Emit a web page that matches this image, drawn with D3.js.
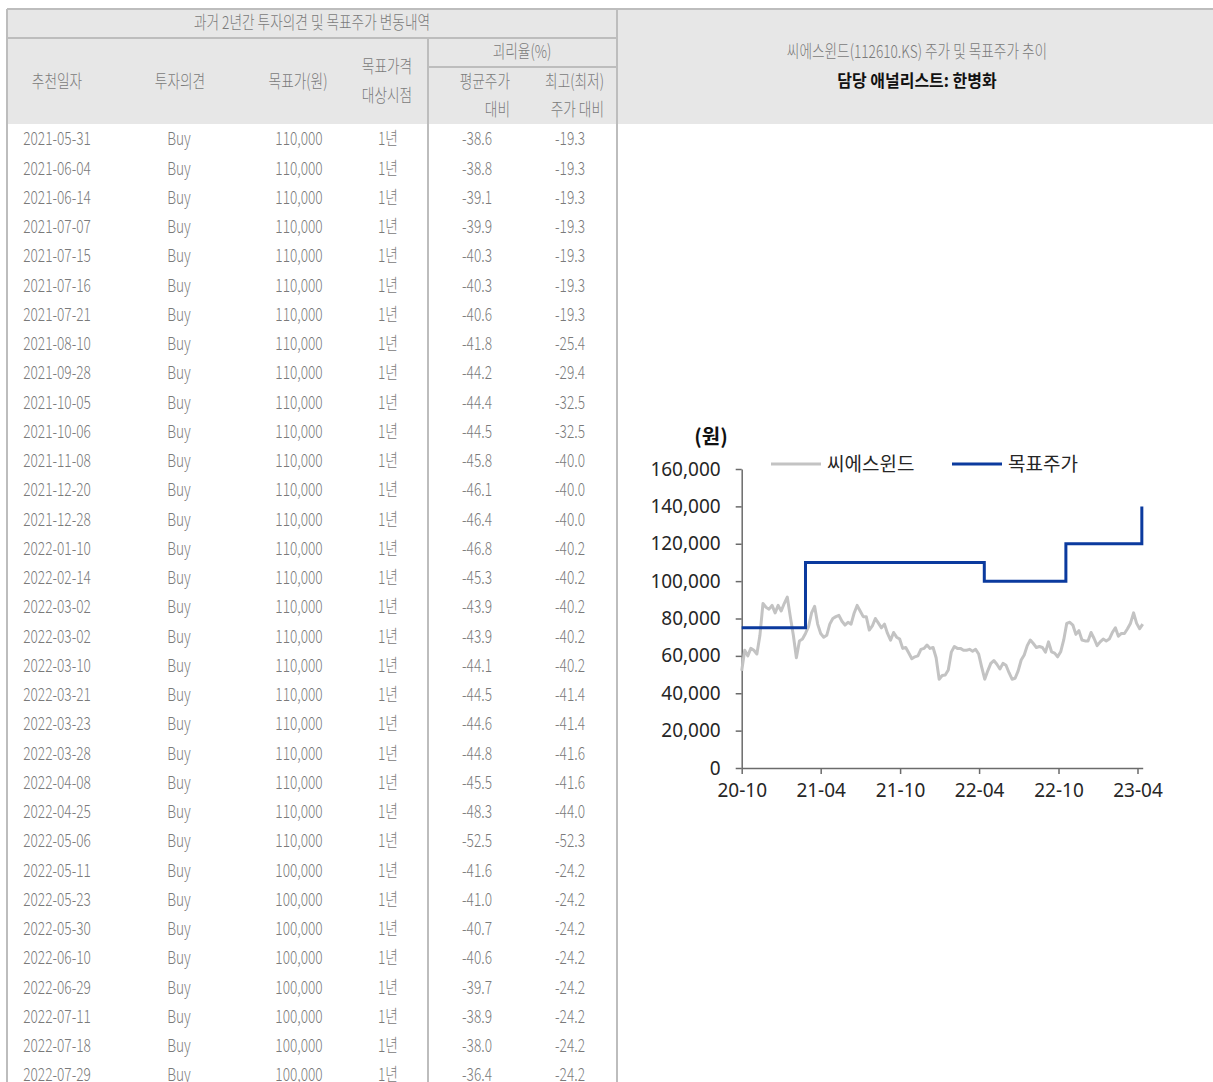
<!DOCTYPE html>
<html>
<head>
<meta charset="utf-8">
<script src="https://cdn.jsdelivr.net/npm/d3@7"></script>
<style>
  body { margin: 0; background: #fff; }
  svg { display: block; }
</style>
</head>
<body>
<div id="chart"></div>
<script>
// table data (left panel)
var recDates = ["2021-05-31","2021-06-04","2021-06-14","2021-07-07","2021-07-15","2021-07-16","2021-07-21","2021-08-10",
  "2021-09-28","2021-10-05","2021-10-06","2021-11-08","2021-12-20","2021-12-28","2022-01-10","2022-02-14","2022-03-02",
  "2022-03-02","2022-03-10","2022-03-21","2022-03-23","2022-03-28","2022-04-08","2022-04-25","2022-05-06","2022-05-11",
  "2022-05-23","2022-05-30","2022-06-10","2022-06-29","2022-07-11","2022-07-18","2022-07-29"];
var opinions = recDates.map(function() { return "Buy"; });
var targetPrices = [110000,110000,110000,110000,110000,110000,110000,110000,110000,110000,110000,110000,110000,110000,
  110000,110000,110000,110000,110000,110000,110000,110000,110000,110000,110000,100000,100000,100000,100000,100000,
  100000,100000,100000];
var horizon = "1년";
var gapAvg = [-38.6,-38.8,-39.1,-39.9,-40.3,-40.3,-40.6,-41.8,-44.2,-44.4,-44.5,-45.8,-46.1,-46.4,-46.8,-45.3,-43.9,
  -43.9,-44.1,-44.5,-44.6,-44.8,-45.5,-48.3,-52.5,-41.6,-41.0,-40.7,-40.6,-39.7,-38.9,-38.0,-36.4];
var gapMax = [-19.3,-19.3,-19.3,-19.3,-19.3,-19.3,-19.3,-25.4,-29.4,-32.5,-32.5,-40.0,-40.0,-40.0,-40.2,-40.2,-40.2,
  -40.2,-40.2,-41.4,-41.4,-41.6,-41.6,-44.0,-52.3,-24.2,-24.2,-24.2,-24.2,-24.2,-24.2,-24.2,-24.2];

// chart data (right panel): weekly closes, from the first week
var priceStart = "2020-10-05";
var priceWeekly = [52000,63000,60000,64000,63000,61000,71000,88000,86000,85000,87000,83000,87000,84000,88000,91500,
  81000,71000,59000,68000,69000,72000,75600,83000,86500,77000,72000,70000,71000,77000,80000,81000,81700,78500,76500,
  78000,77000,82800,87000,84000,81000,81000,73800,76000,80000,77500,75000,77000,72000,68400,72500,70000,69000,64000,
  64500,61500,58500,59500,60000,63500,64000,65800,64000,64500,59000,47500,49500,49800,52400,62000,65000,64000,64000,
  63000,63000,63500,62500,63500,61000,54000,47500,52000,56000,57500,55500,53000,56000,55000,51000,47500,48000,52000,
  57800,60500,65500,68500,66600,64500,65000,64500,62000,67500,62200,61500,59500,62200,68500,77400,78000,76500,71500,
  73500,68500,68000,68000,72500,69300,65500,67500,69000,68000,69000,72500,75000,70500,72000,72000,74500,77500,83000,
  77400,74500,77000];
var targetDates = ["2020-10-05","2021-03-01","2022-04-17","2022-10-22","2023-04-15"];
var targetValues = [75000,110000,100000,120000,140000];
var xTickDates = ["2020-10-05","2021-04-05","2021-10-05","2022-04-05","2022-10-05","2023-04-05"];
var yTicks = [0,20000,40000,60000,80000,100000,120000,140000,160000];

var W = 1213, H = 1082;
var parse = d3.timeParse("%Y-%m-%d");
var SX = 0.76; // condensed look of the report font
var tableFont = "'Noto Sans CJK KR', 'Noto Sans', sans-serif";
var greyText = "#7a7a7a";
var lineGrey = "#c3c3c3";

var svg = d3.select("#chart").append("svg")
  .attr("width", W).attr("height", H);

// condensed text helper
function ctext(x, y, s, anchor, size, color, weight, sx) {
  return svg.append("text")
    .attr("transform", "translate(" + x + "," + y + ") scale(" + (sx || SX) + ",1)")
    .attr("text-anchor", anchor || "middle")
    .attr("dy", "0.35em")
    .style("font-family", tableFont)
    .style("font-size", (size || 18) + "px")
    .style("font-weight", weight || 300)
    .style("fill", color || greyText)
    .text(s);
}

// ---- table panel ----
var tL = 7, tR = 617, tTop = 9, titleBot = 38, headBot = 124, sep = 428;
svg.append("rect").attr("x", tL).attr("y", tTop).attr("width", W - tL).attr("height", headBot - tTop)
  .style("fill", "#e7e7e7");

var borders = [
  [tL, tTop, W, tTop],
  [tL, titleBot, tR, titleBot],
  [sep, 67, tR, 67],
  [tL, tTop, tL, H],
  [sep, titleBot, sep, H],
  [tR, tTop, tR, H]
];
svg.selectAll("line.border").data(borders).enter().append("line")
  .attr("class", "border")
  .attr("x1", function(d) { return d[0]; }).attr("y1", function(d) { return d[1]; })
  .attr("x2", function(d) { return d[2]; }).attr("y2", function(d) { return d[3]; })
  .style("stroke", "#bdbdbd").style("stroke-width", 2);

ctext((tL + tR) / 2, 23, "과거 2년간 투자의견 및 목표주가 변동내역");
ctext(57, 82, "추천일자");
ctext(180, 82, "투자의견");
ctext(298, 82, "목표가(원)");
ctext(387, 67, "목표가격");
ctext(387, 96, "대상시점");
ctext(522, 52, "괴리율(%)");
ctext(510, 82, "평균주가", "end");
ctext(510, 110, "대비", "end");
ctext(604, 82, "최고(최저)", "end");
ctext(604, 110, "주가 대비", "end");

// rows keep the reference's cut at the bottom edge
var rowY = d3.scaleLinear().domain([0, 1]).range([139, 168.25]);
var fmtNum = d3.format(",");
recDates.forEach(function(d, i) {
  var y = rowY(i);
  ctext(57, y, d);
  ctext(179, y, opinions[i]);
  ctext(299, y, fmtNum(targetPrices[i]));
  ctext(388, y, horizon);
  ctext(477, y, gapAvg[i].toFixed(1));
  ctext(570, y, gapMax[i].toFixed(1));
});

// ---- chart panel header ----
ctext(917, 52, "씨에스윈드(112610.KS) 주가 및 목표주가 추이");
ctext(917, 81, "담당 애널리스트: 한병화", "middle", 17, "#111", 700, 0.94);

// ---- chart ----
var priceData = priceWeekly.map(function(v, i) {
  return { date: d3.timeWeek.offset(parse(priceStart), i), value: v };
});
var targetData = targetDates.map(function(d, i) { return { date: parse(d), value: targetValues[i] }; });

var x = d3.scaleTime()
  .domain([parse(priceStart), priceData[priceData.length - 1].date])
  .range([741.7, 1142.7]);
var y = d3.scaleLinear().domain([0, 160000]).range([768, 469]);

var chartFont = "'Noto Sans', 'Open Sans', sans-serif";

var yAxis = svg.append("g")
  .attr("transform", "translate(" + x.range()[0] + ",0)")
  .call(d3.axisLeft(y).tickValues(yTicks).tickFormat(d3.format(",")).tickSize(6).tickSizeOuter(0).tickPadding(15));
var xAxis = svg.append("g")
  .attr("transform", "translate(0," + y(0) + ")")
  .call(d3.axisBottom(x).tickValues(xTickDates.map(parse)).tickFormat(d3.timeFormat("%y-%m"))
    .tickSize(6).tickSizeOuter(0).tickPadding(10));
[yAxis, xAxis].forEach(function(a) {
  a.selectAll("path, line").style("stroke", "#6b6b6b").style("stroke-width", 1.5);
  a.selectAll("text").style("font-family", chartFont).style("font-size", "19px").style("fill", "#262626");
});

svg.append("path").datum(priceData)
  .attr("d", d3.line().x(function(d) { return x(d.date); }).y(function(d) { return y(d.value); }))
  .style("fill", "none").style("stroke", lineGrey).style("stroke-width", 3).style("stroke-linejoin", "round");

svg.append("path").datum(targetData)
  .attr("d", d3.line().curve(d3.curveStepAfter).x(function(d) { return x(d.date); }).y(function(d) { return y(d.value); }))
  .style("fill", "none").style("stroke", "#0b3a9e").style("stroke-width", 3);

// unit label
svg.append("text").attr("x", 711).attr("y", 437).attr("dy", "0.35em").attr("text-anchor", "middle")
  .style("font-family", "'Noto Sans CJK KR', sans-serif").style("font-size", "20px").style("font-weight", 700)
  .style("fill", "#111").text("(원)");

// legend
var legend = [
  { name: "씨에스윈드", color: lineGrey, x0: 771 },
  { name: "목표주가", color: "#0b3a9e", x0: 952 }
];
legend.forEach(function(l) {
  svg.append("line").attr("x1", l.x0).attr("x2", l.x0 + 50).attr("y1", 464).attr("y2", 464)
    .style("stroke", l.color).style("stroke-width", 3);
  svg.append("text").attr("x", l.x0 + 56).attr("y", 464).attr("dy", "0.35em")
    .style("font-family", "'Noto Sans CJK KR', sans-serif").style("font-size", "19px")
    .style("fill", "#262626").text(l.name);
});
</script>
</body>
</html>
